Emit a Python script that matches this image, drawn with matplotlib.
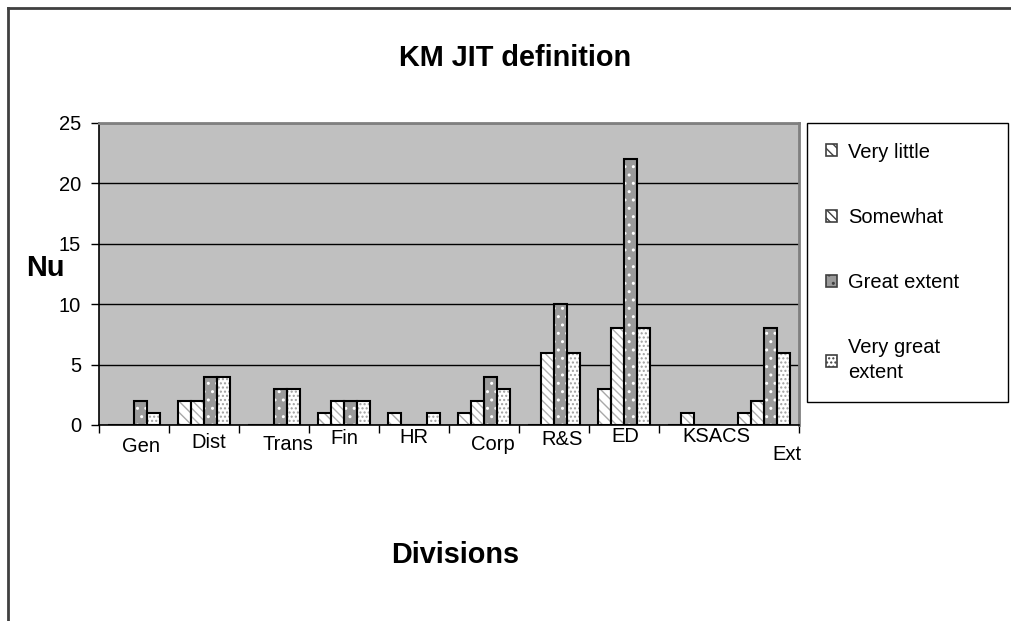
import matplotlib.pyplot as plt
import matplotlib.transforms as mtransforms
from matplotlib.lines import Line2D
from matplotlib.patches import Patch
import numpy as np

plt.rcParams['font.family'] = ['Liberation Sans', 'DejaVu Sans']
plt.rcParams['hatch.linewidth'] = 1.0

# data
divisions = ['Gen', 'Dist', 'Trans', 'Fin', 'HR', 'Corp', 'R&S', 'ED', 'KSACS', 'Ext']
series = ['Very little', 'Somewhat', 'Great extent', 'Very great\nextent']
very_little = [0, 2, 0, 1, 1, 1, 0, 3, 0, 1]
somewhat = [0, 2, 0, 2, 0, 2, 6, 8, 1, 2]
great_extent = [2, 4, 3, 2, 0, 4, 10, 22, 0, 8]
very_great = [1, 4, 3, 2, 1, 3, 6, 8, 0, 6]
values = [very_little, somewhat, great_extent, very_great]

# styles: (face, hatch, hatch colour)
styles = [('white', '\\\\\\', '#a8a8a8'),
          ('white', '\\\\\\\\', '#b0b0b0'),
          ('#9a9a9a', '..', 'white'),
          ('white', '....', '#a0a0a0')]

fig = plt.figure(figsize=(10.11, 6.21), dpi=100)
ax = fig.add_axes([99/1011, 1 - 425/621, 700/1011, 302/621])
ax.set_facecolor('#c0c0c0')

x = np.arange(len(divisions))
w = 0.186
for k, vals in enumerate(values):
    face, hatch, hcol = styles[k]
    pos = x + (k - 1.5) * w
    ax.bar(pos, vals, w, color=face, hatch=hatch, edgecolor=hcol, linewidth=0, zorder=3)
    ax.bar(pos, vals, w, fill=False, edgecolor='black', linewidth=1.5, zorder=4)

ax.set_xlim(-0.5, len(divisions) - 0.5)
ax.set_ylim(0, 25)
ax.set_yticks(range(0, 26, 5))
ax.yaxis.grid(True, color='black', linewidth=1.0, zorder=1)
ax.set_axisbelow(True)
ax.tick_params(axis='y', labelsize=14.5, length=6, width=1, pad=7)
ticks = [t for t in np.arange(-0.5, len(divisions), 1.0) if abs(t - 8.5) > 0.01]
ax.set_xticks(ticks)
ax.set_xticklabels([])
ax.tick_params(axis='x', length=6, width=1)
for s in ['top', 'right']:
    ax.spines[s].set_color('#808080')
    ax.spines[s].set_linewidth(2)
for s in ['left', 'bottom']:
    ax.spines[s].set_color('black')
    ax.spines[s].set_linewidth(1.2)

# category labels, placed Excel-style (staggered)
label_dx = [7, 5, 14, 0, 0, 9, 8, 1, 22, 23]
label_top = [437, 433, 435, 429, 428, 435, 430, 427, 427, 445]
trans = mtransforms.blended_transform_factory(ax.transData, fig.transFigure)
for i, name in enumerate(divisions):
    ax.text(i + label_dx[i] / 70, 1 - label_top[i] / 621, name, transform=trans,
            ha='center', va='top', fontsize=14.5, clip_on=False)

fig.text(515/1011, 1 - 58/621, 'KM JIT definition', ha='center', va='center',
         fontsize=20.8, fontweight='bold')
fig.text(45/1011, 1 - 268/621, 'Nu', ha='center', va='center',
         fontsize=20.8, fontweight='bold')
fig.text(455/1011, 1 - 555/621, 'Divisions', ha='center', va='center',
         fontsize=20.8, fontweight='bold')

handles = [Patch(facecolor=s[0], hatch=s[1], edgecolor='#404040', linewidth=1.2)
           for s in styles]
leg = fig.legend(handles, series, loc='upper left',
                 bbox_to_anchor=(807/1011, 1 - 124/621, 201/1011, 0.001),
                 mode='expand', fontsize=14.5, frameon=True, fancybox=False,
                 edgecolor='black', framealpha=1, handlelength=0.55,
                 handleheight=0.55, handletextpad=0.55, labelspacing=2.3,
                 borderpad=0.95, borderaxespad=0)
leg.get_frame().set_linewidth(1.0)
for t in leg.get_texts():
    t.set_linespacing(1.4)

# outer chart border
fig.add_artist(Line2D([8/1011, 8/1011], [0, 1 - 8/621], color='#404040', linewidth=2,
                      transform=fig.transFigure))
fig.add_artist(Line2D([8/1011, 1], [1 - 8/621, 1 - 8/621], color='#404040', linewidth=2,
                      transform=fig.transFigure))

fig.savefig('out.png', dpi=100)
